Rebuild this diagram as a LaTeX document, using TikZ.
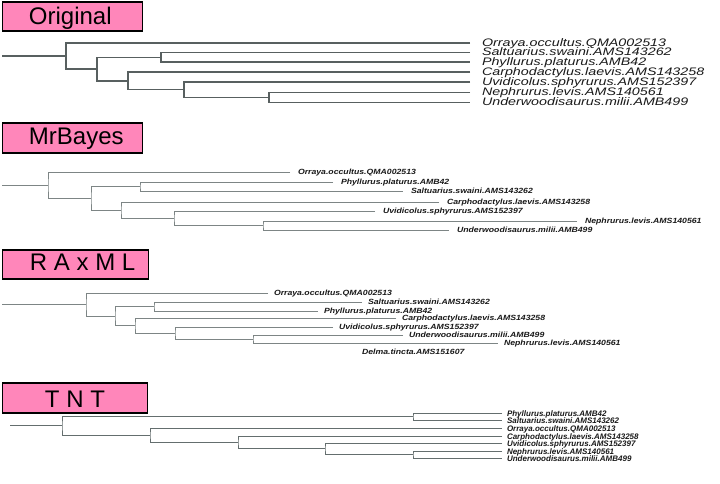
\documentclass[tikz,border=0pt]{standalone}
\usepackage{fontspec}
\setmainfont{Liberation Sans}
\usepackage{graphicx}
\definecolor{pinkc}{RGB}{255,134,186}
\definecolor{lineA}{RGB}{88,96,96}
\definecolor{lineB}{RGB}{125,133,133}
\definecolor{lineC}{RGB}{100,110,110}
\definecolor{txt}{RGB}{25,25,25}
\newcommand\olab[1]{\scalebox{1.31}[1]{\fontsize{10.9}{11}\selectfont\itshape #1}}
\newcommand\mlab[1]{\scalebox{1.16}[1]{\fontsize{7.5}{8}\selectfont\bfseries\itshape #1}}
\newcommand\tlab[1]{{\fontsize{8}{8}\selectfont\bfseries\itshape #1}}
\begin{document}
\begin{tikzpicture}[x=1pt,y=-1pt,
  titlebox/.style={draw=black, line width=1.5pt, fill=pinkc, inner sep=0pt, outer sep=0pt,
    anchor=north west, font=\fontsize{24}{24}\selectfont, text height=17.2pt, text depth=0pt},
  brA/.style={draw=lineA, line width=1.3pt},
  brB/.style={draw=lineB, line width=0.9pt},
  brC/.style={draw=lineC, line width=1.0pt},
  lab/.style={inner sep=0pt, outer sep=0pt, anchor=base west, text=txt},
  tipA/.style={lab, xshift=12pt, yshift=-3pt},
  tipB/.style={lab, xshift=8pt, yshift=-2.6pt},
  tipC/.style={lab, xshift=6pt, yshift=-2.6pt},
  tipD/.style={lab, xshift=5pt, yshift=-3pt}]
\useasboundingbox[fill=white] (0,0) rectangle (720,483);

% ---------------- titles
\node[titlebox, minimum width=140.1pt, minimum height=29.2pt] (tb1) at (2.45,1.75)
  {\makebox[140.1pt][l]{\hspace{26.5pt}\raisebox{0.95pt}{Original}}};
\node[titlebox, minimum width=140.1pt, minimum height=29.9pt] (tb2) at (2.45,123.05)
  {\makebox[140.1pt][l]{\hspace{26.5pt}\raisebox{2.3pt}{MrBayes}}};
\node[titlebox, minimum width=146.1pt, minimum height=29.2pt] (tb3) at (2.45,249.75)
  {\makebox[146.1pt][l]{\hspace{27.5pt}\raisebox{2.25pt}{R A x M L}}};
\node[titlebox, minimum width=145.1pt, minimum height=29.9pt] (tb4) at (2.45,383.05)
  {\makebox[145.1pt][l]{\hspace{42.5pt}\raisebox{-1.1pt}{T N T}}};

% ---------------- Original
\coordinate (a0) at (2,56);
\coordinate (a1) at (66,56);
\coordinate (a2) at (97,69.1);
\coordinate (a3) at (161,57.25);
\coordinate (a4) at (128,81);
\coordinate (a5) at (184,89.75);
\coordinate (a6) at (269,97.5);
\coordinate (aOr) at (470,43);
\coordinate (aSa) at (470,52.5);
\coordinate (aPh) at (470,62);
\coordinate (aCa) at (470,72);
\coordinate (aUv) at (470,82);
\coordinate (aNe) at (470,92.5);
\coordinate (aUn) at (470,102.5);
\draw[brA] (a0) -- (a1);
\draw[brA] (aOr) -| (a1) |- (a2);
\draw[brA] (a3) -| (a2) |- (a4);
\draw[brA] (aSa) -| (a3) |- (aPh);
\draw[brA] (aCa) -| (a4) |- (a5);
\draw[brA] (aUv) -| (a5) |- (a6);
\draw[brA] (aNe) -| (a6) |- (aUn);
\node[tipA] (tAOr) at (aOr) {\olab{Orraya.occultus.QMA002513}};
\node[tipA] (tASa) at (aSa) {\olab{Saltuarius.swaini.AMS143262}};
\node[tipA] (tAPh) at (aPh) {\olab{Phyllurus.platurus.AMB42}};
\node[tipA] (tACa) at (aCa) {\olab{Carphodactylus.laevis.AMS143258}};
\node[tipA] (tAUv) at (aUv) {\olab{Uvidicolus.sphyrurus.AMS152397}};
\node[tipA] (tANe) at (aNe) {\olab{Nephrurus.levis.AMS140561}};
\node[tipA] (tAUn) at (aUn) {\olab{Underwoodisaurus.milii.AMB499}};

% ---------------- MrBayes
\coordinate (b0) at (2,185.2);
\coordinate (b1) at (48,185.2);
\coordinate (b2) at (91,198.3);
\coordinate (b3) at (140,186.5);
\coordinate (b4) at (121,210.1);
\coordinate (b5) at (174,218.25);
\coordinate (b6) at (263,225.5);
\coordinate (bOr) at (290,172);
\coordinate (bPh) at (333,182);
\coordinate (bSa) at (403,191);
\coordinate (bCa) at (439,202);
\coordinate (bUv) at (375,211);
\coordinate (bNe) at (577,221);
\coordinate (bUn) at (449,230);
\draw[brB] (b0) -- (b1);
\draw[brB] (bOr) -| (b1) |- (b2);
\draw[brB] (b3) -| (b2) |- (b4);
\draw[brB] (bPh) -| (b3) |- (bSa);
\draw[brB] (bCa) -| (b4) |- (b5);
\draw[brB] (bUv) -| (b5) |- (b6);
\draw[brB] (bNe) -| (b6) |- (bUn);
\node[tipB] (tBOr) at (bOr) {\mlab{Orraya.occultus.QMA002513}};
\node[tipB] (tBPh) at (bPh) {\mlab{Phyllurus.platurus.AMB42}};
\node[tipB] (tBSa) at (bSa) {\mlab{Saltuarius.swaini.AMS143262}};
\node[tipB] (tBCa) at (bCa) {\mlab{Carphodactylus.laevis.AMS143258}};
\node[tipB] (tBUv) at (bUv) {\mlab{Uvidicolus.sphyrurus.AMS152397}};
\node[tipB] (tBNe) at (bNe) {\mlab{Nephrurus.levis.AMS140561}};
\node[tipB] (tBUn) at (bUn) {\mlab{Underwoodisaurus.milii.AMB499}};

% ---------------- RAxML
\coordinate (c0) at (2,304.5);
\coordinate (c1) at (86,304.5);
\coordinate (c2) at (115,316);
\coordinate (c3) at (154,306.5);
\coordinate (c4) at (135,325.5);
\coordinate (c5) at (175,333);
\coordinate (c6) at (253,339);
\coordinate (cOr) at (268,293);
\coordinate (cSa) at (362,302);
\coordinate (cPh) at (318,311);
\coordinate (cCa) at (396,318);
\coordinate (cUv) at (333,327);
\coordinate (cUn) at (403,335);
\coordinate (cNe) at (498,343);
\draw[brB] (c0) -- (c1);
\draw[brB] (cOr) -| (c1) |- (c2);
\draw[brB] (c3) -| (c2) |- (c4);
\draw[brB] (cSa) -| (c3) |- (cPh);
\draw[brB] (cCa) -| (c4) |- (c5);
\draw[brB] (cUv) -| (c5) |- (c6);
\draw[brB] (cUn) -| (c6) |- (cNe);
\node[tipC] (tCOr) at (cOr) {\mlab{Orraya.occultus.QMA002513}};
\node[tipC] (tCSa) at (cSa) {\mlab{Saltuarius.swaini.AMS143262}};
\node[tipC] (tCPh) at (cPh) {\mlab{Phyllurus.platurus.AMB42}};
\node[tipC] (tCCa) at (cCa) {\mlab{Carphodactylus.laevis.AMS143258}};
\node[tipC] (tCUv) at (cUv) {\mlab{Uvidicolus.sphyrurus.AMS152397}};
\node[tipC] (tCUn) at (cUn) {\mlab{Underwoodisaurus.milii.AMB499}};
\node[tipC] (tCNe) at (cNe) {\mlab{Nephrurus.levis.AMS140561}};
\node[lab] (tCDe) at (362,354.6) {\mlab{Delma.tincta.AMS151607}};

% ---------------- TNT
\coordinate (d0) at (10,425.9);
\coordinate (d1) at (62,425.9);
\coordinate (d2) at (413,416.5);
\coordinate (d3) at (150,435.25);
\coordinate (d4) at (238,442.5);
\coordinate (d5) at (325,448.5);
\coordinate (d6) at (413,454.5);
\coordinate (dPh) at (502,413);
\coordinate (dSa) at (502,420);
\coordinate (dOr) at (502,428);
\coordinate (dCa) at (502,436);
\coordinate (dUv) at (502,443);
\coordinate (dNe) at (502,451);
\coordinate (dUn) at (502,458);
\draw[brC] (d0) -- (d1);
\draw[brC] (d2) -| (d1) |- (d3);
\draw[brC] (dPh) -| (d2) |- (dSa);
\draw[brC] (dOr) -| (d3) |- (d4);
\draw[brC] (dCa) -| (d4) |- (d5);
\draw[brC] (dUv) -| (d5) |- (d6);
\draw[brC] (dNe) -| (d6) |- (dUn);
\node[tipD] (tDPh) at (dPh) {\tlab{Phyllurus.platurus.AMB42}};
\node[tipD] (tDSa) at (dSa) {\tlab{Saltuarius.swaini.AMS143262}};
\node[tipD] (tDOr) at (dOr) {\tlab{Orraya.occultus.QMA002513}};
\node[tipD] (tDCa) at (dCa) {\tlab{Carphodactylus.laevis.AMS143258}};
\node[tipD] (tDUv) at (dUv) {\tlab{Uvidicolus.sphyrurus.AMS152397}};
\node[tipD] (tDNe) at (dNe) {\tlab{Nephrurus.levis.AMS140561}};
\node[tipD] (tDUn) at (dUn) {\tlab{Underwoodisaurus.milii.AMB499}};
\end{tikzpicture}
\end{document}
